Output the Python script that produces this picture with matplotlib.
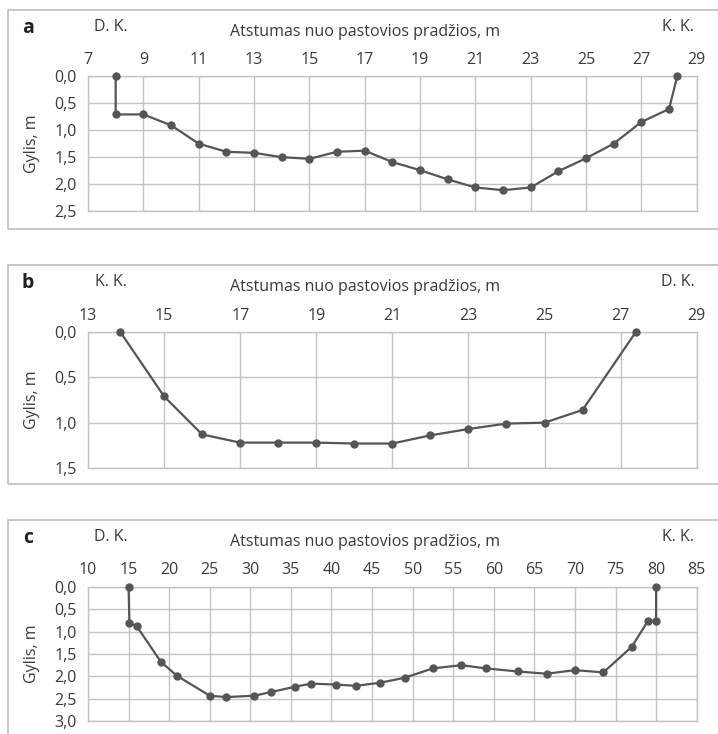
import matplotlib.pyplot as plt
from matplotlib.patches import Rectangle
from matplotlib.ticker import FuncFormatter
import numpy as np

# --- data -------------------------------------------------------------
a_dist = [8.0, 8.0, 9, 10, 11, 12, 13, 14, 15, 16, 17, 18, 19, 20, 21, 22, 23, 24, 25, 26, 27, 28, 28.3]
a_depth = [0.0, 0.71, 0.71, 0.91, 1.25, 1.40, 1.42, 1.50, 1.53, 1.40, 1.38, 1.59, 1.74, 1.91,
           2.06, 2.11, 2.06, 1.76, 1.52, 1.25, 0.85, 0.61, 0.0]

b_dist = [13.85, 15, 16, 17, 18, 19, 20, 21, 22, 23, 24, 25, 26, 27.4]
b_depth = [0.0, 0.71, 1.13, 1.22, 1.22, 1.22, 1.23, 1.23, 1.14, 1.07, 1.01, 1.00, 0.86, 0.0]

c_dist = [15.0, 15.1, 16, 19, 21, 25, 27, 30.5, 32.5, 35.5, 37.5, 40.5, 43, 46, 49, 52.5, 56,
          59, 63, 66.5, 70, 73.5, 77, 79, 80, 80]
c_depth = [0.0, 0.80, 0.88, 1.68, 1.99, 2.43, 2.46, 2.43, 2.35, 2.23, 2.16, 2.18, 2.21, 2.14,
           2.03, 1.82, 1.75, 1.82, 1.89, 1.94, 1.86, 1.91, 1.34, 0.76, 0.76, 0.0]

panels = ["a", "b", "c"]
left_bank = ["D. K.", "K. K.", "D. K."]
right_bank = ["K. K.", "D. K.", "K. K."]
x_ticks = [np.arange(7, 30, 2), np.arange(13, 30, 2), np.arange(10, 86, 5)]
y_max = [2.5, 1.5, 3.0]
x_title = "Atstumas nuo pastovios pradžios, m"
y_title = "Gylis, m"

# --- layout (pixels) --------------------------------------------------
W, H = 718, 734
plt.rcParams['font.family'] = ['Open Sans', 'DejaVu Sans']
txt = '#3a3a3a'
grid_c = '#c4c4c4'
line_c = '#555555'
fs = 11.5

fig = plt.figure(figsize=(W / 100, H / 100), dpi=100)

def fx(x):
    return x / W

def fy(y):
    return 1 - y / H

# plot area top / bottom in pixels, box top / bottom
plot_top = [76, 332, 586.7]
plot_bot = [211.3, 468, 721.3]
box_top = [10, 265, 520]
box_bot = [229, 484, 745]
x_l, x_r = 88, 696.7

data = [(a_dist, a_depth), (b_dist, b_depth), (c_dist, c_depth)]

for i in range(3):
    fig.add_artist(Rectangle((fx(8), fy(box_bot[i])), fx(W + 10 - 8), (box_bot[i] - box_top[i]) / H,
                             transform=fig.transFigure, fill=False, edgecolor='#bdbdbd', lw=1.2))

    ax = fig.add_axes([fx(x_l), fy(plot_bot[i]), fx(x_r - x_l), (plot_bot[i] - plot_top[i]) / H])
    dist, depth = data[i]
    ax.plot(dist, depth, color=line_c, lw=1.6, marker='o', markersize=5, clip_on=False, zorder=3)

    ax.set_xlim(x_ticks[i][0], x_ticks[i][-1])
    ax.set_xticks(x_ticks[i])
    ax.set_ylim(y_max[i], 0)
    ax.set_yticks(np.arange(0, y_max[i] + 0.01, 0.5))
    ax.yaxis.set_major_formatter(FuncFormatter(lambda v, p: f"{v:.1f}".replace('.', ',')))
    ax.xaxis.tick_top()
    ax.tick_params(length=0, labelsize=fs, labelcolor=txt, pad=6)
    ax.tick_params(axis='y', pad=8)
    ax.grid(True, color=grid_c, lw=1)
    for s in ax.spines.values():
        s.set_color(grid_c)
        s.set_linewidth(1)
    ax.set_axisbelow(True)

    mid = (plot_top[i] + plot_bot[i]) / 2
    fig.text(fx(32), fy(mid), y_title, rotation=90, ha='center', va='center', fontsize=fs, color=txt)
    fig.text(fx(28), fy(box_top[i] + 18), panels[i], ha='center', va='center', fontsize=14,
             fontweight='bold', color='#222222')
    fig.text(fx(111), fy(box_top[i] + 17), left_bank[i], ha='center', va='center', fontsize=fs, color=txt)
    fig.text(fx(678), fy(box_top[i] + 17), right_bank[i], ha='center', va='center', fontsize=fs, color=txt)
    fig.text(fx(365), fy(box_top[i] + 22), x_title, ha='center', va='center', fontsize=fs, color=txt)

plt.savefig("out.png", dpi=100)
